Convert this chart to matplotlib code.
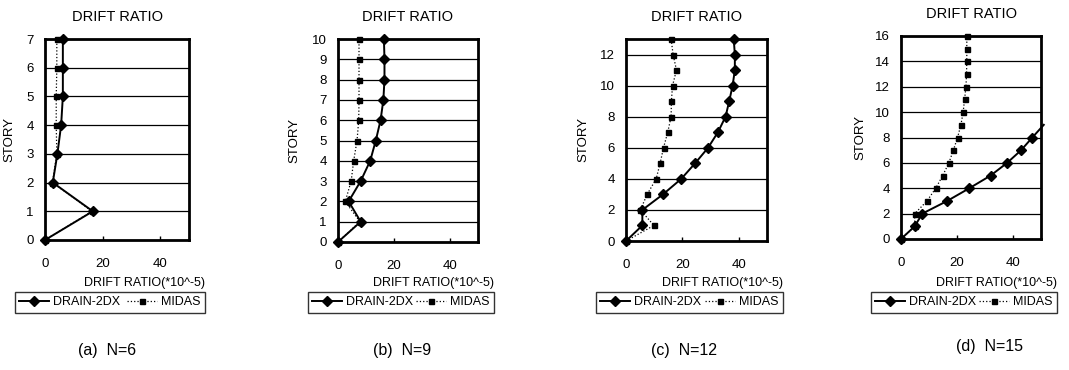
import matplotlib
matplotlib.use("Agg")
import matplotlib.pyplot as plt
import numpy as np

plt.rcParams['font.family'] = ['Liberation Sans', 'DejaVu Sans']

# ---------------- data ----------------
captions = ["(a)  N=6", "(b)  N=9", "(c)  N=12", "(d)  N=15"]

# (a) N=6
stories_a = [0, 1, 2, 3, 4, 5, 6, 7]
drain_a = [0, 16.6, 2.7, 4.3, 5.6, 6.2, 6.2, 6.2]
midas_a = [0, 16.3, 2.6, 4.1, 3.9, 3.9, 4.1, 4.1]

# (b) N=9
stories_b = [0, 1, 2, 3, 4, 5, 6, 7, 8, 9, 10]
drain_b = [0, 8.1, 3.8, 8.1, 11.5, 13.5, 15.2, 16.2, 16.6, 16.6, 16.4]
midas_b = [0, 7.8, 2.6, 4.7, 5.6, 6.8, 7.4, 7.5, 7.5, 7.5, 7.5]

# (c) N=12
stories_c = [0, 1, 2, 3, 4, 5, 6, 7, 8, 9, 10, 11, 12, 13]
drain_c = [0, 5.8, 5.8, 13.1, 19.6, 24.5, 29.1, 32.6, 35.3, 36.6, 37.8, 38.6, 38.6, 38.2]
midas_c = [0, 9.9, 5.1, 7.5, 10.7, 12.1, 13.3, 14.8, 16.0, 16.1, 16.5, 17.9, 16.7, 16.0]

# (d) N=15
stories_d_drain = [0, 1, 2, 3, 4, 5, 6, 7, 8, 9]
drain_d = [0, 4.9, 7.6, 16.5, 24.4, 32.0, 37.9, 42.9, 46.9, 51.0]
stories_d_midas = [0, 1, 2, 3, 4, 5, 6, 7, 8, 9, 10, 11, 12, 13, 14, 15, 16]
midas_d = [0, 4.9, 4.9, 9.3, 12.4, 14.9, 17.1, 18.7, 20.2, 21.4, 22.2, 22.7, 23.2, 23.4, 23.5, 23.5, 23.5]

ylims = [7, 10, 13, 16]
ysteps = [1, 1, 2, 2]
xticks = [0, 20, 40]
xmax = 50

panels = [
    (stories_a, drain_a, stories_a, midas_a),
    (stories_b, drain_b, stories_b, midas_b),
    (stories_c, drain_c, stories_c, midas_c),
    (stories_d_drain, drain_d, stories_d_midas, midas_d),
]

# ---------------- layout (pixels) ----------------
W, H = 1069, 370
axes_px = [(45, 189, 39, 240), (338, 478, 39, 242), (626, 767, 39, 241), (901, 1041, 36, 239)]
ylabel_x_px = [15, 300, 589, 866]
caption_px = [(107, 350), (402, 350), (684, 350), (989, 347)]

fig = plt.figure(figsize=(W / 100, H / 100), dpi=100)

for i, (sd, dv, sm, mv) in enumerate(panels):
    l, r, t, b = axes_px[i]
    ax = fig.add_axes([l / W, 1 - b / H, (r - l) / W, (b - t) / H])
    ax.set_xlim(0, xmax)
    ax.set_ylim(0, ylims[i])
    ax.set_xticks(xticks)
    ax.set_yticks(np.arange(0, ylims[i] + 0.01, ysteps[i]))
    ax.yaxis.grid(True, color='black', linewidth=0.9)
    ax.set_axisbelow(True)
    for sp in ax.spines.values():
        sp.set_linewidth(2.0)
        sp.set_color('black')
    ax.tick_params(axis='x', direction='in', length=3, width=1, pad=13, labelsize=9.5)
    ax.tick_params(axis='y', length=0, pad=8, labelsize=9.5)

    mask = [x <= xmax for x in dv]
    ax.plot(dv, sd, color='black', linewidth=1.4, marker='D', markersize=5,
            markevery=mask, clip_on=False, label='DRAIN-2DX', zorder=3)
    ax.plot(mv, sm, color='black', linewidth=0.9, linestyle=':', marker='s',
            markersize=3.6, clip_on=False, label='MIDAS', zorder=3)

    ax.set_title("DRIFT RATIO", fontsize=10.5, pad=13)
    ax.set_ylabel("STORY", fontsize=9.5)
    ax.yaxis.set_label_coords((ylabel_x_px[i] - l) / (r - l), 0.5)

    ax.text(1 + 16 / (r - l), -(283 - b) / (b - t), "DRIFT RATIO(*10^-5)",
            transform=ax.transAxes, ha='right', va='center', fontsize=9)

    x0 = -30 / (r - l)
    wid = (r - l + 46) / (r - l)
    ytop = -(292 - b) / (b - t)
    leg = ax.legend(loc='upper left', bbox_to_anchor=(x0, ytop, wid, 0), mode='expand',
                    ncol=2, frameon=True, fancybox=False, edgecolor='black',
                    fontsize=9, borderaxespad=0, handlelength=2.4, handletextpad=0.3,
                    columnspacing=0.8, borderpad=0.35)
    leg.get_frame().set_linewidth(1.0)

    cx, cy = caption_px[i]
    fig.text(cx / W, 1 - cy / H, captions[i], ha='center', va='center', fontsize=11.5)

fig.savefig("out.png", dpi=100)
